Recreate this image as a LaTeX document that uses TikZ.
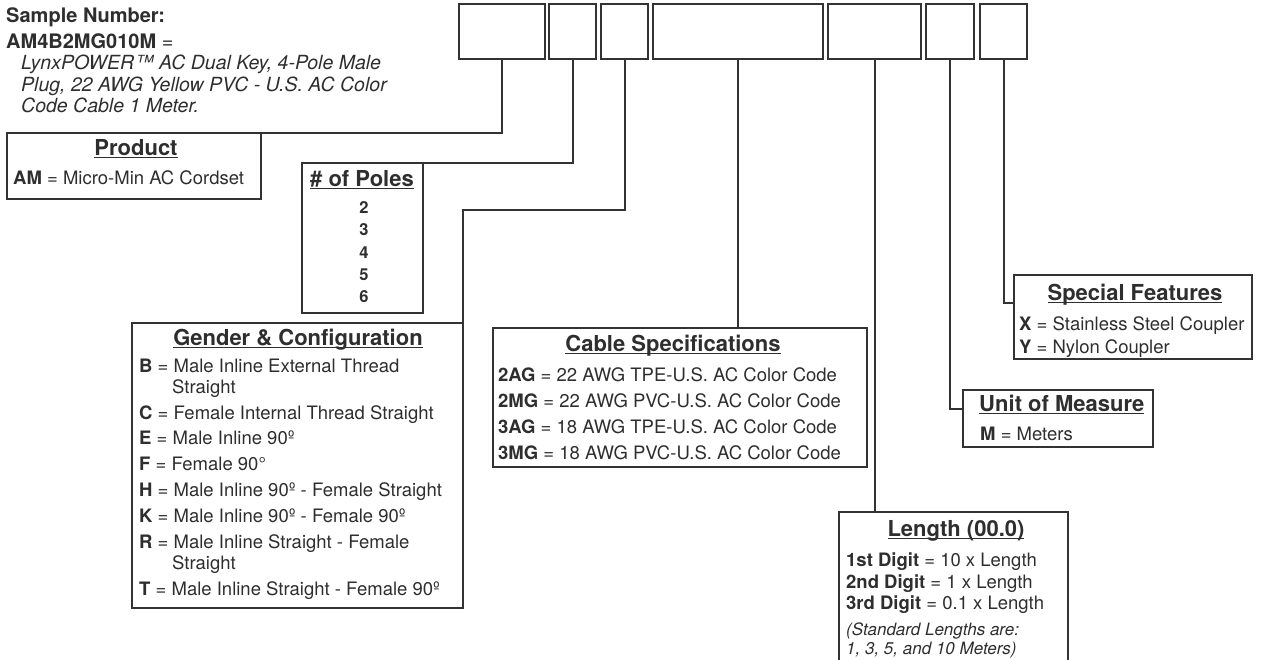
\documentclass[tikz,border=0pt]{standalone}
\usepackage{fontspec}
\setmainfont{TeX Gyre Heros}
\definecolor{ink}{HTML}{2E2E2E}
\definecolor{edge}{HTML}{333333}
\newsavebox\ulbox
\newcommand\myul[1]{\sbox\ulbox{#1}\rlap{\rule[-3pt]{\wd\ulbox}{1.4pt}}\usebox\ulbox}
\tikzset{
  box/.style={draw=edge, line width=2pt, rectangle, inner sep=0, outer sep=0, anchor=north west},
  conn/.style={draw=edge, line width=2pt},
  txt/.style={inner sep=0, anchor=mid west, yshift=-4.5pt, text=ink, font=\fontsize{18.5}{22}\selectfont},
  note/.style={inner sep=0, anchor=mid west, yshift=-4pt, text=ink, font=\fontsize{17}{20}\selectfont\itshape},
  samp/.style={inner sep=0, anchor=mid west, yshift=-4.5pt, text=ink, font=\fontsize{20}{22}\selectfont},
  ttl/.style={inner sep=0, anchor=mid, yshift=-5.5pt, text=ink, font=\fontsize{22}{26}\selectfont\bfseries},
  num/.style={inner sep=0, anchor=mid, yshift=-4pt, text=ink, font=\fontsize{16.5}{20}\selectfont\bfseries}
}
\begin{document}
\begin{tikzpicture}[x=1pt, y=-1pt]
\useasboundingbox (0,0) rectangle (1264,659);

% top code boxes
\node[box, minimum width=86pt, minimum height=55pt] (t1) at (459,4) {};
\node[box, minimum width=47pt, minimum height=55pt] (t2) at (549,4) {};
\node[box, minimum width=47pt, minimum height=55pt] (t3) at (601,4) {};
\node[box, minimum width=170pt, minimum height=55pt] (t4) at (653,4) {};
\node[box, minimum width=93pt, minimum height=55pt] (t5) at (828,4) {};
\node[box, minimum width=48pt, minimum height=55pt] (t6) at (926,4) {};
\node[box, minimum width=47pt, minimum height=55pt] (t7) at (980,4) {};

% sample number
\node[samp, font=\fontsize{20}{22}\selectfont\bfseries] (s1) at (6,15) {Sample Number:};
\node[samp] (s2) at (6,41) {\textbf{AM4B2MG010M} =};
\node[samp, font=\fontsize{19.5}{22}\selectfont\itshape] (s3) at (21,62) {LynxPOWER™ AC Dual Key, 4-Pole Male};
\node[samp, font=\fontsize{19.5}{22}\selectfont\itshape] (s4) at (21,84) {Plug, 22 AWG Yellow PVC - U.S. AC Color};
\node[samp, font=\fontsize{19.5}{22}\selectfont\itshape] (s5) at (21,105) {Code Cable 1 Meter.};

% info boxes
\node[box, minimum width=254pt, minimum height=66pt] (prod) at (7,133) {};
\node[box, minimum width=121pt, minimum height=150pt] (poles) at (302,163) {};
\node[box, minimum width=331pt, minimum height=285pt] (gender) at (132,323) {};
\node[box, minimum width=374pt, minimum height=139pt] (cable) at (493,328) {};
\node[box, minimum width=229pt, minimum height=152pt] (len) at (839,512) {};
\node[box, minimum width=190pt, minimum height=57pt] (unit) at (963,390) {};
\node[box, minimum width=238pt, minimum height=84pt] (spec) at (1014,275) {};

% connectors
\coordinate (g1) at (463,210);
\draw[conn] (t1.south) |- (prod.north east);
\draw[conn] (t2.south) |- (poles.north east);
\draw[conn] (t3.south) |- (g1) -- (gender.north east);
\draw[conn] (t4.south) -- (t4.south |- cable.north);
\draw[conn] (t5.south) -- (t5.south |- len.north);
\draw[conn] (t6.south) |- ([yshift=-19pt]unit.north west);
\draw[conn] (t7.south) |- ([yshift=-28pt]spec.north west);

% product
\node[ttl] (prodT) at (136,147) {\myul{Product}};
\node[txt] (prod1) at (13,177) {\textbf{AM} = Micro-Min AC Cordset};

% poles
\node[ttl] (polesT) at (362,178) {\myul{\# of Poles}};
\node[num] (p2) at (364,207) {2};
\node[num] (p3) at (364,229) {3};
\node[num] (p4) at (364,252) {4};
\node[num] (p5) at (364,274) {5};
\node[num] (p6) at (364,296) {6};

% gender
\node[ttl] (genT) at (298,337) {\myul{Gender \& Configuration}};
\node[txt] (gB) at (139,365) {\textbf{B} = Male Inline External Thread};
\node[txt] (gB2) at (172,386) {Straight};
\node[txt] (gC) at (139,412) {\textbf{C} = Female Internal Thread Straight};
\node[txt] (gE) at (139,437) {\textbf{E} = Male Inline 90º};
\node[txt] (gF) at (139,463) {\textbf{F} = Female 90°};
\node[txt] (gH) at (139,489) {\textbf{H} = Male Inline 90º - Female Straight};
\node[txt] (gK) at (139,515) {\textbf{K} = Male Inline 90º - Female 90º};
\node[txt] (gR) at (139,541) {\textbf{R} = Male Inline Straight - Female};
\node[txt] (gR2) at (172,562) {Straight};
\node[txt] (gT) at (139,588) {\textbf{T} = Male Inline Straight - Female 90º};

% cable
\node[ttl] (cabT) at (673,343) {\myul{Cable Specifications}};
\node[txt] (c1) at (498,374) {\textbf{2AG} = 22 AWG TPE-U.S. AC Color Code};
\node[txt] (c2) at (498,400) {\textbf{2MG} = 22 AWG PVC-U.S. AC Color Code};
\node[txt] (c3) at (498,426) {\textbf{3AG} = 18 AWG TPE-U.S. AC Color Code};
\node[txt] (c4) at (498,452) {\textbf{3MG} = 18 AWG PVC-U.S. AC Color Code};

% length
\node[ttl] (lenT) at (956,528) {\myul{Length (00.0)}};
\node[txt] (l1) at (846,559) {\textbf{1st Digit} = 10 x Length};
\node[txt] (l2) at (846,581) {\textbf{2nd Digit} = 1 x Length};
\node[txt] (l3) at (846,602) {\textbf{3rd Digit} = 0.1 x Length};
\node[note] (l4) at (846,629) {(Standard Lengths are:};
\node[note] (l5) at (846,648) {1, 3, 5, and 10 Meters)};

% unit
\node[ttl, anchor=mid west] (unitT) at (979,403) {\myul{Unit of Measure}};
\node[txt] (u1) at (980,433) {\textbf{M} = Meters};

% special
\node[ttl] (specT) at (1135,292) {\myul{Special Features}};
\node[txt] (sp1) at (1019,323) {\textbf{X} = Stainless Steel Coupler};
\node[txt] (sp2) at (1019,346) {\textbf{Y} = Nylon Coupler};
\end{tikzpicture}
\end{document}
